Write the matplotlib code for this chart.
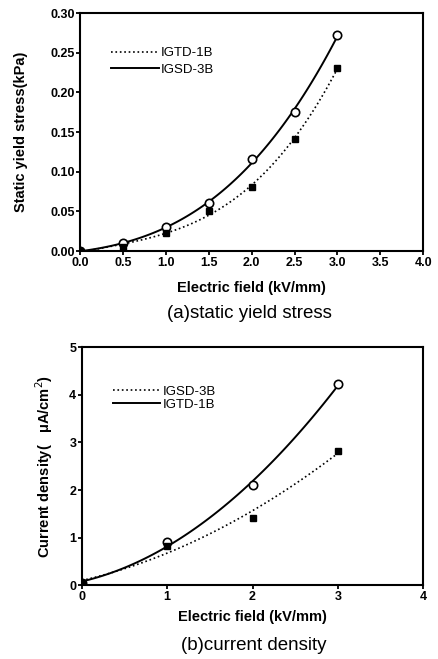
import numpy as np
import matplotlib
matplotlib.use('Agg')
import matplotlib.pyplot as plt

plt.rcParams['font.family'] = ['Liberation Sans', 'DejaVu Sans']

# (a) static yield stress
field_a = [0.0, 0.5, 1.0, 1.5, 2.0, 2.5, 3.0]
igsd_3b_a = [0.0, 0.010, 0.030, 0.060, 0.116, 0.175, 0.272]
igtd_1b_a = [0.0, 0.005, 0.023, 0.050, 0.081, 0.141, 0.231]

# (b) current density
field_b = [0, 1, 2, 3]
igtd_1b_b = [0.05, 0.90, 2.10, 4.22]
igsd_3b_b = [0.05, 0.82, 1.42, 2.82]

fig = plt.figure(figsize=(4.38, 6.59), dpi=100)
ax1 = fig.add_axes([0.183, 0.619, 0.783, 0.361])
ax2 = fig.add_axes([0.187, 0.112, 0.779, 0.361])


def style(ax):
    for s in ax.spines.values():
        s.set_linewidth(1.5)
    ax.tick_params(direction='out', length=3, width=1.3, labelsize=9, pad=1,
                   top=False, right=False)
    for lab in ax.get_xticklabels() + ax.get_yticklabels():
        lab.set_fontweight('bold')


def fit(x, y, deg, n=100):
    c = np.polyfit(x, y, deg)
    xs = np.linspace(min(x), max(x), n)
    return xs, np.polyval(c, xs)


leg_kw = dict(loc='upper left', frameon=False, fontsize=9.5, handlelength=3.6,
              handletextpad=0.15, borderaxespad=0)

# panel (a)
xs, ys = fit(field_a, igtd_1b_a, 3)
ax1.plot(xs, ys, ':', color='black', lw=1.2, label='IGTD-1B')
xs, ys = fit(field_a, igsd_3b_a, 3)
ax1.plot(xs, ys, '-', color='black', lw=1.4, label='IGSD-3B')
ax1.plot(field_a, igsd_3b_a, 'o', mfc='white', mec='black', ms=6, mew=1.2)
ax1.plot(field_a, igtd_1b_a, 's', color='black', ms=5)
ax1.set_xlim(0, 4)
ax1.set_ylim(0, 0.30)
ax1.set_xticks(np.arange(0, 4.01, 0.5))
ax1.set_yticks(np.arange(0, 0.301, 0.05))
ax1.set_xticklabels([f'{v:.1f}' for v in np.arange(0, 4.01, 0.5)])
ax1.set_yticklabels([f'{v:.2f}' for v in np.arange(0, 0.301, 0.05)])
ax1.set_xlabel('Electric field (kV/mm)', fontsize=10.5, fontweight='bold', labelpad=9)
ax1.set_ylabel('Static yield stress(kPa)', fontsize=10.5, fontweight='bold', labelpad=16)
ax1.legend(bbox_to_anchor=(0.075, 0.88), labelspacing=0.35, **leg_kw)
style(ax1)
fig.text(0.57, 0.525, '(a)static yield stress', ha='center', va='center', fontsize=13.5)

# panel (b)
xs, ys = fit(field_b, igsd_3b_b, 2)
ax2.plot(xs, ys, ':', color='black', lw=1.2, label='IGSD-3B')
xs, ys = fit(field_b, igtd_1b_b, 2)
ax2.plot(xs, ys, '-', color='black', lw=1.4, label='IGTD-1B')
ax2.plot(field_b, igtd_1b_b, 'o', mfc='white', mec='black', ms=6, mew=1.2)
ax2.plot(field_b, igsd_3b_b, 's', color='black', ms=5)
ax2.set_xlim(0, 4)
ax2.set_ylim(0, 5)
ax2.set_xticks(range(0, 5))
ax2.set_yticks(range(0, 6))
ax2.set_xlabel('Electric field (kV/mm)', fontsize=10.5, fontweight='bold', labelpad=5)
ax2.set_ylabel('Current density(   μA/cm$^2$)', fontsize=10.5, fontweight='bold', labelpad=10)
ax2.legend(bbox_to_anchor=(0.075, 0.86), labelspacing=0.05, **leg_kw)
style(ax2)
fig.text(0.58, 0.021, '(b)current density', ha='center', va='center', fontsize=13.5)

fig.savefig('out.png', dpi=100)
